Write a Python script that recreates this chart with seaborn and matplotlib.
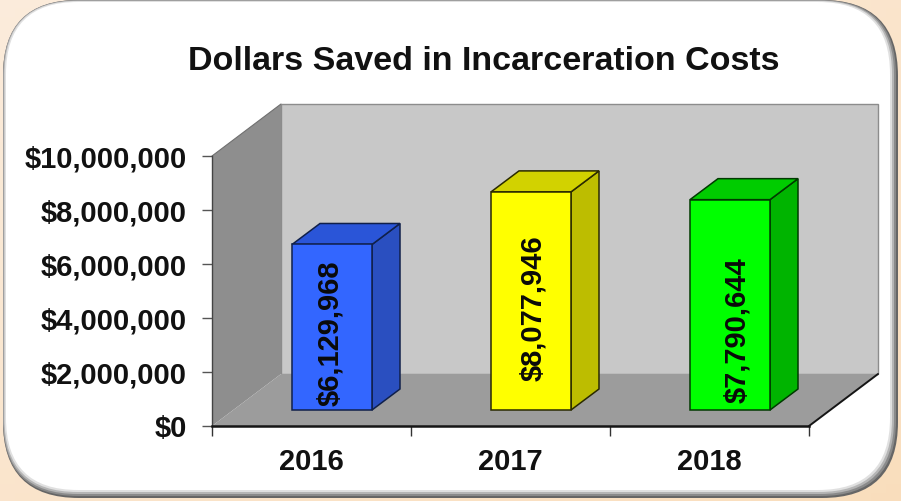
#!/usr/bin/env python3
"""Dollars saved in incarceration costs, drawn as a fake 3D column chart"""

import numpy as np
import matplotlib
matplotlib.use('Agg')
import matplotlib.pyplot as plt
from matplotlib.patches import FancyBboxPatch, Polygon
from matplotlib.transforms import ScaledTranslation
import seaborn as sns

years = ['2016', '2017', '2018']
saved = [6129968, 8077946, 7790644]
saved_labels = ['$6,129,968', '$8,077,946', '$7,790,644']
label_centres = [3440000, 4370000, 3560000]
label_shifts = [19, 23, 28]
y_ticks = [0, 2000000, 4000000, 6000000, 8000000, 10000000]
y_labels = ['$0', '$2,000,000', '$4,000,000', '$6,000,000', '$8,000,000', '$10,000,000']

front_colors = ['#3366FF', '#FFFF00', '#00FF00']
side_colors = ['#2A4FC0', '#BDBD00', '#00B400']
top_colors = ['#2A55D8', '#D2D200', '#00CC00']
edge_colors = ['#10204A', '#2A2A00', '#003A00']

W, H = 901, 501
DPI = 100

sns.set_theme(style='white')
plt.rcParams['font.family'] = ['Liberation Sans', 'DejaVu Sans']

fig = plt.figure(figsize=(W / DPI, H / DPI), dpi=DPI)


def rounded_panel(axis, left, top, right, bottom, radius, color, z):
    """Rounded rectangle given by its outer edges in pixels"""
    axis.add_patch(FancyBboxPatch((left + radius, top + radius),
                                  right - left - 2 * radius, bottom - top - 2 * radius,
                                  boxstyle=f'round,pad={radius},rounding_size={radius}',
                                  fc=color, ec='none', zorder=z))


# background layer in pixel coordinates, y going down
bg = fig.add_axes([0, 0, 1, 1])
bg.set_xlim(0, W)
bg.set_ylim(H, 0)
bg.axis('off')

# peach page colour, a bit stronger towards the lower right
xx, yy = np.meshgrid(np.linspace(0, 1, 60), np.linspace(0, 1, 60))
shade = (xx + yy) / 2
peach = np.dstack([0.985 - 0.005 * shade, 0.925 - 0.055 * shade, 0.86 - 0.12 * shade])
bg.imshow(peach, extent=(0, W, H, 0), aspect='auto', zorder=0)

# white panel, the grey rim only gets dark on the lower right
rounded_panel(bg, 3, 0, 898, 498, 76, '#666666', 1)
rounded_panel(bg, 3, 0, 896, 496, 75, '#8A8A8A', 1.1)
rounded_panel(bg, 3.5, 0.5, 894, 494, 74, '#B5B5B5', 1.2)
rounded_panel(bg, 4.5, 1, 892, 492, 73, '#E0E0E0', 1.3)
rounded_panel(bg, 6, 2, 890, 490, 72, 'white', 1.4)

# walls and floor of the 3D box
x0, x1, y0, y1 = 212, 809, 426, 156
dx, dy = 69, 52
bg.add_patch(Polygon([(x0 + dx, y1 - dy), (x1 + dx, y1 - dy), (x1 + dx, y0 - dy), (x0 + dx, y0 - dy)],
                     fc='#C8C8C8', ec='#8C8C8C', lw=1, zorder=3))
bg.add_patch(Polygon([(x0, y1), (x0 + dx, y1 - dy), (x0 + dx, y0 - dy), (x0, y0)],
                     fc='#8E8E8E', ec='none', zorder=3))
bg.add_patch(Polygon([(x0, y0), (x0 + dx, y0 - dy), (x1 + dx, y0 - dy), (x1, y0)],
                     fc='#9C9C9C', ec='none', zorder=3))
bg.plot([x1, x1 + dx], [y0, y0 - dy], color='#151515', lw=1.4, zorder=4)
bg.plot([x0, x0 + dx], [y1, y1 - dy], color='#707070', lw=0.8, zorder=4)

# main axes sits exactly on the front plane of the box
ax = fig.add_axes([x0 / W, 1 - y0 / H, (x1 - x0) / W, (y0 - y1) / H])
ax.patch.set_alpha(0)

sns.barplot(x=years, y=saved, hue=years, palette=front_colors, legend=False,
            width=0.402, saturation=1, edgecolor='#10204A', linewidth=1.1, ax=ax)
ax.set_xlim(-0.5, 2.5)
ax.set_ylim(0, 10000000)
fig.canvas.draw()

# columns stand part way back on the floor
shift = ScaledTranslation(20.5 / DPI, 16 / DPI, fig.dpi_scale_trans)
side_dx, side_dy = 28, 21
for i, bar in enumerate(ax.patches):
    bar.set_transform(ax.transData + shift)
    bar.set_clip_on(False)
    bar.set_edgecolor(edge_colors[i])
    (lx, by), (rx, ty) = ax.transData.transform([(bar.get_x(), 0),
                                                 (bar.get_x() + bar.get_width(), bar.get_height())])
    lx, rx = lx + 20.5, rx + 20.5
    by, ty = H - by - 16, H - ty - 16
    bg.add_patch(Polygon([(rx, by), (rx + side_dx, by - side_dy), (rx + side_dx, ty - side_dy), (rx, ty)],
                         fc=side_colors[i], ec=edge_colors[i], lw=1.1, zorder=5))
    bg.add_patch(Polygon([(lx, ty), (lx + side_dx, ty - side_dy), (rx + side_dx, ty - side_dy), (rx, ty)],
                         fc=top_colors[i], ec=edge_colors[i], lw=1.1, zorder=5))
    ax.text(i, label_centres[i], saved_labels[i], rotation=90, ha='center', va='center',
            fontsize=21, fontweight='bold', color='#0A0A0A', clip_on=False,
            transform=ax.transData + ScaledTranslation(label_shifts[i] / DPI, 0, fig.dpi_scale_trans))

# axes furniture
ax.set_yticks(y_ticks)
ax.set_yticklabels(y_labels, fontsize=21, fontweight='bold', color='#111111')
ax.set_xticks([0, 1, 2])
ax.set_xticklabels(years, fontsize=21, fontweight='bold', color='#111111')
ax.set_xticks([-0.5, 0.5, 1.5, 2.5], minor=True)
ax.tick_params(axis='x', which='major', length=0, pad=16)
ax.tick_params(axis='x', which='minor', length=7, width=1, color='#333333', bottom=True)
ax.tick_params(axis='y', length=7, width=1, color='#555555', left=True, pad=11)
sns.despine(ax=ax, top=True, right=True)
ax.spines['bottom'].set_color('#151515')
ax.spines['bottom'].set_linewidth(1.8)
ax.spines['left'].set_color('#444444')
ax.spines['left'].set_linewidth(1)

fig.text(484 / W, 1 - 62 / H, 'Dollars Saved in Incarceration Costs', ha='center', va='center',
         fontsize=24.5, fontweight='bold', color='#111111')

fig.savefig('out.png', dpi=DPI)
